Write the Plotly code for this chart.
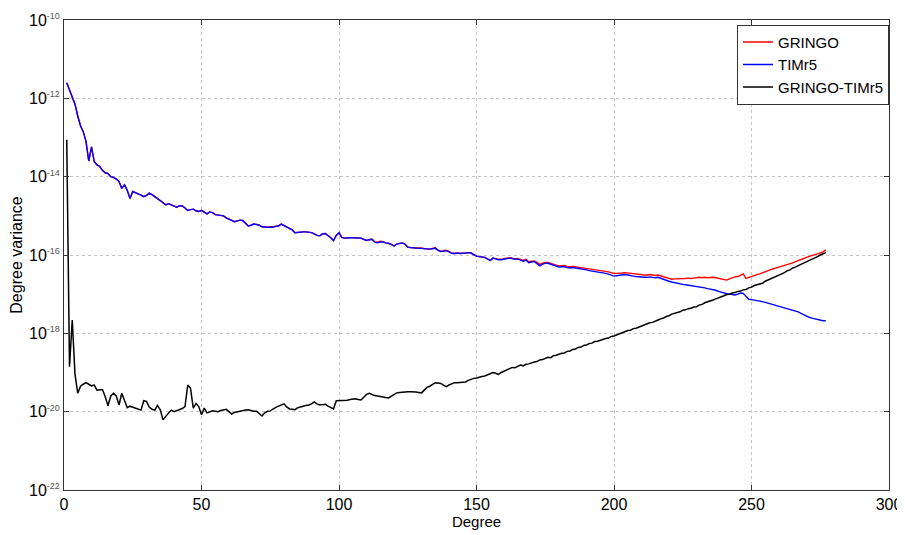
import plotly.graph_objects as go

# Spherical-harmonic degrees
degrees = list(range(1, 278))

# log10 of degree variance
timr5_log10 = [
    -11.60, -11.80, -12.00, -12.15, -12.45, -12.70, -12.85, -13.10, -13.60, -13.24,
    -13.62, -13.70, -13.74, -13.84, -13.90, -13.92, -14.00, -14.02, -14.06, -14.12,
    -14.30, -14.21, -14.35, -14.56, -14.38, -14.42, -14.44, -14.47, -14.51, -14.48,
    -14.42, -14.46, -14.50, -14.56, -14.61, -14.66, -14.72, -14.69, -14.72, -14.76,
    -14.78, -14.74, -14.75, -14.80, -14.86, -14.84, -14.83, -14.87, -14.89, -14.86,
    -14.90, -14.95, -14.90, -14.92, -14.97, -14.98, -15.00, -15.00, -15.05, -15.09,
    -15.12, -15.15, -15.13, -15.11, -15.12, -15.18, -15.26, -15.24, -15.21, -15.22,
    -15.24, -15.28, -15.29, -15.29, -15.29, -15.29, -15.27, -15.26, -15.21, -15.25,
    -15.29, -15.33, -15.36, -15.43, -15.42, -15.41, -15.41, -15.41, -15.42, -15.43,
    -15.46, -15.50, -15.51, -15.46, -15.45, -15.50, -15.56, -15.63, -15.50, -15.43,
    -15.55, -15.57, -15.56, -15.56, -15.56, -15.56, -15.57, -15.57, -15.60, -15.63,
    -15.61, -15.60, -15.67, -15.69, -15.67, -15.67, -15.69, -15.70, -15.73, -15.77,
    -15.72, -15.70, -15.69, -15.72, -15.80, -15.81, -15.82, -15.83, -15.83, -15.83,
    -15.84, -15.85, -15.85, -15.84, -15.83, -15.88, -15.91, -15.90, -15.89, -15.92,
    -15.96, -15.96, -15.95, -15.96, -15.96, -15.95, -15.94, -15.95, -15.99, -16.03,
    -16.04, -16.05, -16.06, -16.10, -16.14, -16.08, -16.10, -16.12, -16.12, -16.10,
    -16.09, -16.08, -16.09, -16.11, -16.10, -16.14, -16.16, -16.13, -16.20, -16.18,
    -16.17, -16.22, -16.28, -16.24, -16.21, -16.21, -16.24, -16.27, -16.29, -16.31,
    -16.30, -16.30, -16.32, -16.33, -16.32, -16.33, -16.34, -16.36, -16.37, -16.38,
    -16.40, -16.41, -16.42, -16.43, -16.44, -16.45, -16.47, -16.49, -16.51, -16.54,
    -16.53, -16.52, -16.51, -16.50, -16.51, -16.53, -16.54, -16.55, -16.56, -16.56,
    -16.57, -16.57, -16.56, -16.57, -16.58, -16.57, -16.60, -16.63, -16.65, -16.67,
    -16.69, -16.71, -16.73, -16.74, -16.75, -16.76, -16.77, -16.78, -16.79, -16.80,
    -16.81, -16.82, -16.84, -16.86, -16.87, -16.88, -16.90, -16.93, -16.95, -16.98,
    -16.99, -17.00, -17.01, -17.02, -17.00, -16.97, -16.98, -17.06, -17.13, -17.14,
    -17.15, -17.16, -17.17, -17.19, -17.21, -17.23, -17.25, -17.27, -17.30, -17.32,
    -17.33, -17.35, -17.36, -17.38, -17.40, -17.42, -17.45, -17.49, -17.53, -17.57,
    -17.59, -17.61, -17.63, -17.65, -17.67, -17.68, -17.68,
]

gringo_log10 = [
    -11.60, -11.80, -12.00, -12.15, -12.45, -12.70, -12.85, -13.10, -13.60, -13.24,
    -13.62, -13.70, -13.74, -13.84, -13.90, -13.92, -14.00, -14.02, -14.06, -14.12,
    -14.30, -14.21, -14.35, -14.56, -14.38, -14.42, -14.44, -14.47, -14.51, -14.48,
    -14.42, -14.46, -14.50, -14.56, -14.61, -14.66, -14.72, -14.69, -14.72, -14.76,
    -14.78, -14.74, -14.75, -14.80, -14.86, -14.84, -14.83, -14.87, -14.89, -14.86,
    -14.90, -14.95, -14.90, -14.92, -14.97, -14.98, -15.00, -15.00, -15.05, -15.09,
    -15.12, -15.15, -15.13, -15.11, -15.12, -15.18, -15.26, -15.24, -15.21, -15.22,
    -15.24, -15.28, -15.29, -15.29, -15.28, -15.28, -15.26, -15.25, -15.21, -15.25,
    -15.29, -15.33, -15.36, -15.43, -15.42, -15.41, -15.41, -15.41, -15.42, -15.43,
    -15.46, -15.50, -15.51, -15.46, -15.45, -15.50, -15.56, -15.63, -15.50, -15.43,
    -15.55, -15.57, -15.56, -15.56, -15.56, -15.56, -15.57, -15.57, -15.60, -15.63,
    -15.61, -15.60, -15.66, -15.67, -15.65, -15.66, -15.69, -15.70, -15.73, -15.77,
    -15.72, -15.70, -15.69, -15.72, -15.80, -15.81, -15.82, -15.82, -15.82, -15.82,
    -15.84, -15.85, -15.85, -15.83, -15.81, -15.87, -15.91, -15.89, -15.88, -15.91,
    -15.95, -15.96, -15.95, -15.96, -15.96, -15.95, -15.94, -15.95, -15.99, -16.03,
    -16.04, -16.05, -16.06, -16.10, -16.14, -16.08, -16.10, -16.11, -16.11, -16.09,
    -16.08, -16.07, -16.08, -16.10, -16.09, -16.12, -16.14, -16.11, -16.17, -16.16,
    -16.15, -16.19, -16.24, -16.21, -16.19, -16.19, -16.22, -16.24, -16.26, -16.28,
    -16.27, -16.27, -16.29, -16.30, -16.29, -16.30, -16.31, -16.33, -16.34, -16.35,
    -16.36, -16.37, -16.38, -16.39, -16.40, -16.41, -16.42, -16.43, -16.45, -16.47,
    -16.47, -16.47, -16.46, -16.45, -16.46, -16.47, -16.47, -16.48, -16.49, -16.50,
    -16.51, -16.51, -16.50, -16.51, -16.52, -16.51, -16.53, -16.55, -16.57, -16.59,
    -16.62, -16.61, -16.61, -16.61, -16.60, -16.60, -16.59, -16.60, -16.59, -16.58,
    -16.57, -16.58, -16.57, -16.58, -16.57, -16.57, -16.58, -16.60, -16.62, -16.63,
    -16.64, -16.61, -16.58, -16.56, -16.55, -16.52, -16.48, -16.60, -16.57, -16.54,
    -16.52, -16.50, -16.48, -16.45, -16.42, -16.39, -16.37, -16.35, -16.33, -16.31,
    -16.28, -16.26, -16.24, -16.22, -16.20, -16.17, -16.15, -16.12, -16.09, -16.06,
    -16.03, -16.01, -15.99, -15.97, -15.95, -15.92, -15.87,
]

diff_log10 = [
    -13.06, -18.85, -17.66, -19.05, -19.53, -19.35, -19.30, -19.26, -19.30, -19.34,
    -19.32, -19.45, -19.44, -19.44, -19.62, -19.85, -19.60, -19.53, -19.60, -19.83,
    -19.53, -19.70, -19.90, -19.86, -19.88, -19.91, -19.94, -19.96, -19.72, -19.74,
    -19.88, -19.94, -19.96, -19.84, -19.95, -20.21, -20.12, -20.05, -19.96, -20.00,
    -19.98, -19.96, -19.92, -19.87, -19.32, -19.40, -19.91, -19.79, -19.87, -20.08,
    -19.91, -20.03, -20.00, -19.98, -19.99, -20.00, -19.97, -19.96, -19.94, -20.00,
    -20.06, -20.02, -20.00, -19.99, -19.97, -19.96, -19.95, -19.97, -19.99, -19.99,
    -20.05, -20.11, -20.03, -19.99, -19.98, -19.93, -19.89, -19.86, -19.83, -19.80,
    -19.88, -19.93, -19.94, -19.95, -19.90, -19.87, -19.86, -19.84, -19.83, -19.80,
    -19.75, -19.80, -19.83, -19.82, -19.81, -19.86, -19.90, -19.93, -19.72, -19.72,
    -19.72, -19.72, -19.71, -19.69, -19.68, -19.67, -19.69, -19.70, -19.63, -19.56,
    -19.53, -19.57, -19.59, -19.60, -19.62, -19.63, -19.64, -19.65, -19.60, -19.55,
    -19.52, -19.51, -19.50, -19.50, -19.49, -19.49, -19.49, -19.50, -19.51, -19.52,
    -19.45, -19.38, -19.35, -19.30, -19.26, -19.27, -19.28, -19.32, -19.36, -19.32,
    -19.28, -19.26, -19.26, -19.25, -19.24, -19.24, -19.20, -19.17, -19.15, -19.14,
    -19.11, -19.10, -19.09, -19.06, -19.03, -19.00, -19.02, -19.05, -19.00, -18.96,
    -18.93, -18.90, -18.87, -18.88, -18.84, -18.81, -18.83, -18.79, -18.78, -18.75,
    -18.73, -18.72, -18.68, -18.67, -18.64, -18.61, -18.62, -18.57, -18.56, -18.53,
    -18.51, -18.50, -18.46, -18.45, -18.41, -18.40, -18.36, -18.35, -18.31, -18.30,
    -18.26, -18.25, -18.21, -18.20, -18.17, -18.16, -18.13, -18.12, -18.08, -18.07,
    -18.04, -18.02, -17.99, -17.97, -17.93, -17.92, -17.88, -17.87, -17.84, -17.82,
    -17.79, -17.77, -17.73, -17.72, -17.68, -17.66, -17.63, -17.61, -17.57, -17.55,
    -17.51, -17.49, -17.46, -17.45, -17.41, -17.40, -17.37, -17.36, -17.33, -17.32,
    -17.28, -17.26, -17.22, -17.20, -17.17, -17.15, -17.12, -17.10, -17.06, -17.04,
    -17.01, -17.00, -16.97, -16.96, -16.93, -16.92, -16.89, -16.88, -16.84, -16.82,
    -16.78, -16.76, -16.73, -16.72, -16.67, -16.64, -16.60, -16.58, -16.54, -16.52,
    -16.47, -16.45, -16.40, -16.38, -16.33, -16.31, -16.27, -16.24, -16.20, -16.17,
    -16.13, -16.12, -16.07, -16.04, -16.00, -15.97, -15.94,
]

series_names = ["GRINGO", "TIMr5", "GRINGO-TIMr5"]
series_colors = ["#ff0000", "#0000ff", "#000000"]
series_widths = [1.4, 1.4, 1.5]
series_log10 = [gringo_log10, timr5_log10, diff_log10]

# y tick labels (MATLAB-style 10^n with small exponent)
y_tick_exponents = [-22, -20, -18, -16, -14, -12, -10]
x_tick_values = [0, 50, 100, 150, 200, 250, 300]

FONT = "Liberation Sans, Arial, Helvetica, sans-serif"

fig = go.Figure()
for name, color, width, vals in zip(series_names, series_colors, series_widths, series_log10):
    fig.add_trace(go.Scatter(
        x=degrees,
        y=[10 ** v for v in vals],
        mode="lines",
        name=name,
        line=dict(color=color, width=width),
    ))

axis_common = dict(
    showline=True, linecolor="#333333", linewidth=1, mirror="ticks",
    ticks="inside", ticklen=5, tickcolor="#333333",
    showgrid=True, gridcolor="#c4c4c4", griddash="dot", gridwidth=1,
    zeroline=False, automargin=False,
    tickfont=dict(family=FONT, size=16, color="#000000"),
)

fig.update_xaxes(
    range=[0, 300], tickvals=x_tick_values, ticktext=[str(v) for v in x_tick_values],
    title=dict(text="Degree", font=dict(family=FONT, size=15, color="#000000"), standoff=3),
    **axis_common,
)
fig.update_yaxes(
    type="log", range=[-22, -10],
    tickvals=[10 ** e for e in y_tick_exponents],
    ticktext=["10<sup><span style='font-size:9px;fill:#555555'>%d</span></sup>" % e for e in y_tick_exponents],
    title=dict(text="Degree variance", font=dict(family=FONT, size=16, color="#000000"), standoff=4),
    **axis_common,
)

# The page body adds an 8px offset, so the figure is 8px smaller and margins shifted.
fig.update_layout(
    width=897, height=527,
    margin=dict(l=56, r=16, t=12, b=45),
    paper_bgcolor="#ffffff", plot_bgcolor="#ffffff",
    font=dict(family=FONT, size=15, color="#000000"),
    showlegend=True,
    legend=dict(
        x=1.0, xanchor="right", y=0.99, yanchor="top",
        bgcolor="#ffffff", bordercolor="#333333", borderwidth=1,
        font=dict(family=FONT, size=15, color="#000000"),
        tracegroupgap=0, itemwidth=30,
    ),
)

fig.write_html("out.html")
